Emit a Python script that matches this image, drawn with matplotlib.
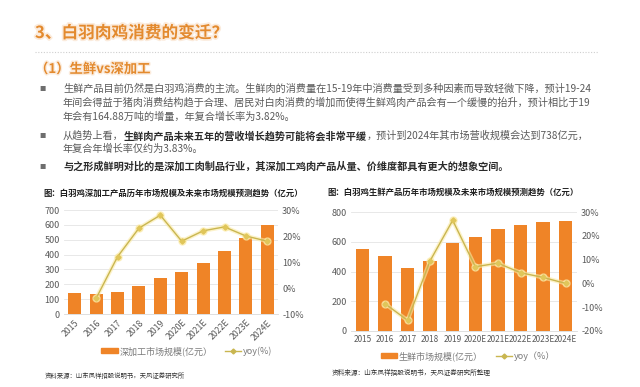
import matplotlib
matplotlib.use('Agg')
import matplotlib.pyplot as plt
import matplotlib.patheffects as pe
from matplotlib.lines import Line2D
from matplotlib.patches import Patch
import numpy as np

plt.rcParams['font.family'] = ['Noto Sans CJK SC', 'DejaVu Sans']

W, H = 640, 387

years = ['2015', '2016', '2017', '2018', '2019', '2020E', '2021E', '2022E', '2023E', '2024E']

# deep processing market size (100m yuan) and yoy (%)
deep_size = [140, 135, 150, 188, 240, 283, 345, 425, 510, 602]
deep_yoy = [None, -4, 12, 23, 28, 18, 22, 23.5, 20, 18]

# fresh product market size (100m yuan) and yoy (%)
fresh_size = [550, 505, 425, 468, 590, 632, 685, 713, 735, 738]
fresh_yoy = [None, -8.5, -15.5, 9.5, 26.5, 7, 8.5, 4.5, 2.5, 0]

title = '3、白羽肉鸡消费的变迁？'
subtitle = '（1）生鲜vs深加工'
bullet_lines = [
    [[('生鲜产品目前仍然是白羽鸡消费的主流。生鲜肉的消费量在15-19年中消费量受到多种因素而导致轻微下降，预计19-24', False)],
     [('年间会得益于猪肉消费结构趋于合理、居民对白肉消费的增加而使得生鲜鸡肉产品会有一个缓慢的抬升，预计相比于19', False)],
     [('年会有164.88万吨的增量，年复合增长率为3.82%。', False)]],
    [[('从趋势上看，', False), ('生鲜肉产品未来五年的营收增长趋势可能将会非常平缓', True),
      ('，预计到2024年其市场营收规模会达到738亿元，', False)],
     [('年复合年增长率仅约为3.83%。', False)]],
    [[('与之形成鲜明对比的是深加工肉制品行业，其深加工鸡肉产品从量、价维度都具有更大的想象空间。', True)]],
]
bullet_y = [[89, 103, 117], [136, 149], [167]]

left_title = '图：白羽鸡深加工产品历年市场规模及未来市场规模预测趋势（亿元）'
right_title = '图：白羽鸡生鲜产品历年市场规模及未来市场规模预测趋势（亿元）'
left_source = '资料来源：山东凤祥招股说明书，天风证券研究所'
right_source = '资料来源：山东凤祥招股说明书，天风证券研究所整理'

bar_color = '#EF8427'
line_color = '#C9B650'
glow_color = '#FBEAA6'
tick_color = '#595959'
orange_text = '#E38A2E'


def fx(x):
    return x / W


def fy(y):
    return 1 - y / H


fig = plt.figure(figsize=(6.4, 3.87), dpi=100)
fig.patch.set_facecolor('white')
renderer = fig.canvas.get_renderer()

# header
fig.text(fx(35), fy(33), title, fontsize=12, weight='bold', color=orange_text, va='center',
         path_effects=[pe.withStroke(linewidth=2.5, foreground='#FBEBDC')])
fig.add_artist(Line2D([fx(35), fx(598)], [fy(52), fy(52)], color='#CFCFCF', lw=0.8, ls=(0, (1, 1.5))))
fig.text(fx(35), fy(69), subtitle, fontsize=9.6, weight='bold', color=orange_text, va='center',
         path_effects=[pe.withStroke(linewidth=2, foreground='#FBEBDC')])

# bullets with mixed bold runs
for lines, ys in zip(bullet_lines, bullet_y):
    fig.text(fx(43), fy(ys[0]), '■', fontsize=4.5, color='#6E6E6E', va='center', ha='center')
    for runs, y in zip(lines, ys):
        x = 63
        for s, bold in runs:
            t = fig.text(fx(x), fy(y), s, fontsize=7.3, va='center',
                         weight='bold' if bold else 'normal',
                         color='#2B2B2B' if bold else '#5A5A5A')
            x += t.get_window_extent(renderer).width


def make_chart(rect, sizes, yoy, ymax, ystep, pmin, pmax, rotate):
    ax = fig.add_axes(rect)
    x = np.arange(len(years))
    ax.bar(x, sizes, width=0.6, color=bar_color, zorder=3)
    ax.set_xlim(-0.5, len(years) - 0.5)
    ax.set_ylim(0, ymax)
    ax.set_yticks(np.arange(0, ymax + 1, ystep))
    ax.yaxis.grid(True, color='#E4E4E4', lw=0.6, zorder=0)
    ax.set_axisbelow(True)
    for s in ['top', 'right', 'left']:
        ax.spines[s].set_visible(False)
    ax.spines['bottom'].set_color('#D9D9D9')
    ax.spines['bottom'].set_linewidth(0.6)
    ax.tick_params(length=0, labelsize=6.5, labelcolor=tick_color, pad=3)
    ax.set_xticks(x)
    if rotate:
        ax.set_xticklabels(years, rotation=45, ha='right', rotation_mode='anchor', fontsize=6.3)
    else:
        ax.set_xticklabels(years, fontsize=5.9)

    ax2 = ax.twinx()
    ax2.set_ylim(pmin, pmax)
    ax2.set_yticks(np.arange(pmin, pmax + 1, 10))
    ax2.set_yticklabels(['{}%'.format(v) for v in range(pmin, pmax + 1, 10)])
    ax2.tick_params(length=0, labelsize=6.5, labelcolor=tick_color, pad=3)
    for s in ax2.spines.values():
        s.set_visible(False)
    xs = x[1:]
    ys = [v for v in yoy[1:]]
    ax2.plot(xs, ys, color=glow_color, lw=3, alpha=0.6, solid_capstyle='round', zorder=4)
    ax2.plot(xs, ys, 'o', color=glow_color, ms=5, alpha=0.7, zorder=4)
    ax2.plot(xs, ys, color=line_color, lw=1.0, marker='D', ms=2.6, mfc='#E0C65A', mec='#E0C65A', zorder=5)
    return ax, ax2


make_chart([fx(64), fy(314), fx(278) - fx(64), fy(210) - fy(314)],
           deep_size, deep_yoy, 700, 100, -10, 30, True)
make_chart([fx(351), fy(331), fx(577) - fx(351), fy(212) - fy(331)],
           fresh_size, fresh_yoy, 800, 200, -20, 30, False)

fig.text(fx(43), fy(193), left_title, fontsize=6, weight='bold', color='#1F1F1F', va='center')
fig.text(fx(327), fy(192), right_title, fontsize=6, weight='bold', color='#1F1F1F', va='center')

# legends
handles_l = [Patch(color=bar_color), Line2D([], [], color=line_color, marker='D', ms=2.5, lw=1)]
fig.legend(handles_l, ['深加工市场规模(亿元）', 'yoy(%)'], loc='center', bbox_to_anchor=(fx(187), fy(351)),
           ncol=2, frameon=False, fontsize=6.5, handlelength=1.8, handleheight=0.5, handletextpad=0.2,
           columnspacing=1.4, labelcolor='#7A7A7A')
fig.legend(handles_l, ['生鲜市场规模(亿元）', 'yoy（%）'], loc='center', bbox_to_anchor=(fx(468), fy(356)),
           ncol=2, frameon=False, fontsize=6.5, handlelength=1.8, handleheight=0.5, handletextpad=0.2,
           columnspacing=1.4, labelcolor='#7A7A7A')

fig.text(fx(45), fy(376), left_source, fontsize=4.6, color='#333333', va='center')
fig.text(fx(332), fy(373), right_source, fontsize=4.8, color='#333333', va='center')

fig.savefig('out.png', dpi=100, facecolor='white')
